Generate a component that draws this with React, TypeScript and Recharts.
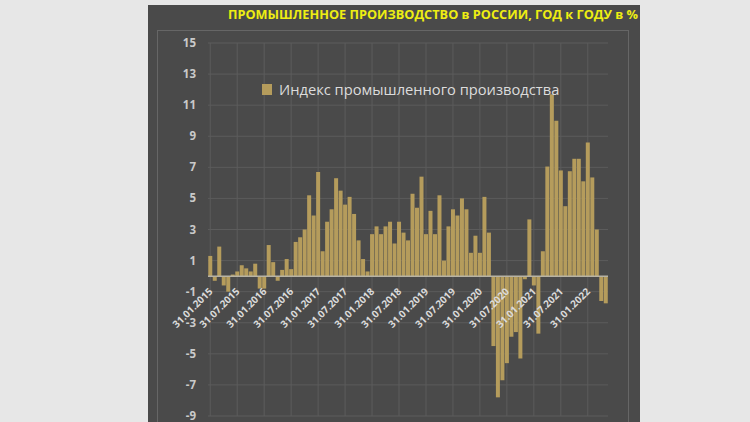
import React from "react";
import {
  Bar,
  BarChart,
  CartesianGrid,
  Legend,
  ReferenceLine,
  XAxis,
  YAxis,
} from "recharts";

// год к году, % (читаем с картинки)
const v2015 = [1.3, -0.3, 1.9, -0.6, -1.0, 0.1, 0.3, 0.7, 0.5, 0.3, 0.8, -0.8];
const v2016 = [-0.8, 2.0, 0.9, -0.3, 0.4, 1.1, 0.45, 2.2, 2.5, 3.0, 5.2, 3.9];
const v2017 = [6.7, 1.6, 3.5, 4.3, 6.3, 5.5, 4.6, 5.1, 4.0, 2.3, 1.1, 0.3];
const v2018 = [2.7, 3.2, 2.7, 3.2, 3.5, 2.1, 3.5, 2.8, 2.3, 5.3, 4.4, 6.4];
const v2019 = [2.7, 4.2, 2.7, 5.2, 1.0, 3.2, 4.3, 3.9, 5.0, 4.3, 1.5, 2.6];
const v2020 = [1.5, 5.1, 2.8, -4.5, -7.8, -6.7, -5.6, -3.9, -3.6, -5.3, -0.2, 3.65];
const v2021 = [-0.6, -3.7, 1.6, 7.05, 11.7, 10.0, 6.8, 4.5, 6.75, 7.55, 7.55, 6.1];
const v2022 = [8.6, 6.35, 3.0, -1.6, -1.75];

const startYear = 2015;
const yTicks = [-9, -7, -5, -3, -1, 1, 3, 5, 7, 9, 11, 13, 15];
const seriesName = "Индекс промышленного производства";
const title = "ПРОМЫШЛЕННОЕ ПРОИЗВОДСТВО в РОССИИ, ГОД к ГОДУ в %";

const values = [...v2015, ...v2016, ...v2017, ...v2018, ...v2019, ...v2020, ...v2021, ...v2022];

const pad = (n: number) => (n < 10 ? "0" + n : "" + n);
const data = values.map((value, i) => {
  const year = startYear + Math.floor(i / 12);
  const month = i % 12;
  const lastDay = new Date(year, month + 1, 0).getDate();
  return { date: `${pad(lastDay)}.${pad(month + 1)}.${year}`, value };
});

const GOLD = "#b59c5c";
const GRID = "#5c5c5c";
const TICK_EVERY = 6;
const yMin = yTicks[0];
const yMax = yTicks[yTicks.length - 1];

const chartW = 480;
const chartH = 422;
const margin = { top: 43, right: 20, left: 20, bottom: 5 };
const yAxisW = 40;
const xAxisH = 1;
const plotHeight = chartH - margin.top - margin.bottom - xAxisH;
const zeroY = margin.top + (plotHeight * yMax) / (yMax - yMin);

// подписанные даты (каждые 6 месяцев) — по ним вертикальная сетка
const tickDates = data.filter((_, i) => i % TICK_EVERY === 0).map((d) => d.date);

const DateTick = (props: any) => {
  const { x, payload } = props;
  const ax = x + 3;
  const ay = zeroY + 16;
  return (
    <text
      x={ax}
      y={ay}
      transform={`rotate(-45 ${ax} ${ay})`}
      textAnchor="end"
      fill="#dadada"
      fontSize={10}
      fontWeight={700}
      fontFamily="'Open Sans', sans-serif"
    >
      {payload.value}
    </text>
  );
};

const LegendBox = () => (
  <div style={{ display: "flex", alignItems: "center", whiteSpace: "nowrap" }}>
    <span style={{ width: 10, height: 11, background: GOLD, marginRight: 7 }} />
    <span
      style={{
        color: "#dcdcdc",
        fontSize: 14.7,
        fontFamily: "'Open Sans', sans-serif",
      }}
    >
      {seriesName}
    </span>
  </div>
);

export default function App() {
  return (
    <div
      style={{
        position: "absolute",
        left: 0,
        top: 0,
        width: 750,
        height: 422,
        background: "#e7e7e7",
        overflow: "hidden",
      }}
    >
      <div
        style={{
          position: "absolute",
          left: 148,
          top: 5,
          width: 492,
          height: 420,
          background: "#4a4a4a",
        }}
      />
      <div
        style={{
          position: "absolute",
          left: 157,
          top: 30,
          width: 470,
          height: 400,
          border: "1px solid #666",
        }}
      />
      <svg
        width={750}
        height={30}
        style={{ position: "absolute", left: 0, top: 0 }}
      >
        <text
          x={228}
          y={19}
          textLength={410}
          lengthAdjust="spacingAndGlyphs"
          fill="#eeee12"
          fontSize={13}
          fontWeight={700}
          fontFamily="'Open Sans', sans-serif"
        >
          {title}
        </text>
      </svg>
      <div style={{ position: "absolute", left: 148, top: 0 }}>
        <BarChart
          width={chartW}
          height={chartH}
          data={data}
          margin={margin}
          barCategoryGap="6%"
        >
          <CartesianGrid stroke={GRID} strokeWidth={1} vertical={false} />
          {tickDates.map((d) => (
            <ReferenceLine key={d} x={d} stroke={GRID} strokeWidth={1} zIndex={-50} />
          ))}
          <XAxis
            dataKey="date"
            interval={TICK_EVERY - 1}
            height={xAxisH}
            axisLine={false}
            tickLine={false}
            tick={<DateTick />}
          />
          <YAxis
            width={yAxisW}
            domain={[yMin, yMax]}
            ticks={yTicks}
            interval={0}
            axisLine={false}
            tickLine={false}
            tickSize={0}
            tickMargin={12}
            tick={{
              fill: "#c9c9c9",
              fontSize: 11.5,
              fontWeight: 700,
              fontFamily: "'Open Sans', sans-serif",
            }}
          />
          <Legend
            content={<LegendBox />}
            wrapperStyle={{
              position: "absolute",
              left: 114,
              top: 79,
              width: "auto",
              height: 0,
              overflow: "visible",
            }}
          />
          <Bar dataKey="value" name={seriesName} fill={GOLD} isAnimationActive={false} />
          <ReferenceLine y={0} stroke="#b8b3a4" strokeWidth={1.5} />
        </BarChart>
      </div>
    </div>
  );
}
